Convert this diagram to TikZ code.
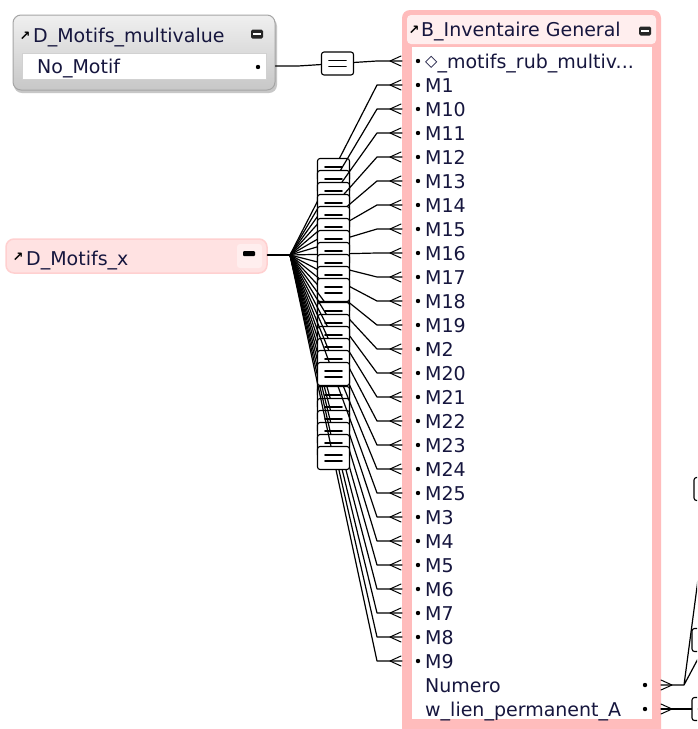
\documentclass[tikz,border=0pt]{standalone}
\usepackage{fontspec}
\setmainfont{DejaVu Sans}
\usetikzlibrary{calc}
\definecolor{inkblue}{RGB}{22,22,62}
\definecolor{tabpink}{RGB}{255,188,188}
\definecolor{headpink}{RGB}{255,238,238}
\definecolor{xpink}{RGB}{255,226,226}
\definecolor{xedge}{RGB}{255,208,208}
\definecolor{greyedge}{RGB}{165,165,165}
\tikzset{
  fieldtxt/.style={anchor=base west, inner sep=0pt, text=inkblue, font=\fontsize{19}{19}\selectfont},
  icontxt/.style={inner sep=0pt, font=\fontsize{13}{13}\selectfont\bfseries},
  link/.style={line width=1.2pt},
  relbox/.style={draw, fill=white, rounded corners=2.5pt, line width=1.1pt,
    minimum width=32pt, minimum height=23pt, inner sep=0pt,
    path picture={\draw[line width=1.8pt, sharp corners]
      ([shift={(-8.5pt,3pt)}]path picture bounding box.center) -- ++(17pt,0pt)
      ([shift={(-8.5pt,-3pt)}]path picture bounding box.center) -- ++(17pt,0pt);}},
  crowfoot/.pic={\draw[line width=1pt] (0pt,0pt) -- (11pt,5pt) (0pt,0pt) -- (11pt,-5pt);},
  btn/.pic={\fill[black!85, rounded corners=1.5pt] (-6pt,-4.5pt) rectangle (6pt,4.5pt);
    \fill[white] (-4pt,-1pt) rectangle (4pt,1pt);}
}
\begin{document}
\begin{tikzpicture}[x=1pt,y=-1pt,line join=round,line cap=round]
\useasboundingbox (0,0) rectangle (697,729);
\clip (0,0) rectangle (697,729);
\fill[white] (0,0) rectangle (697,729);
\def\rowy{24}

% B_Inventaire General
\fill[tabpink, rounded corners=8pt] (402,10) rectangle (661,745);
\fill[headpink, rounded corners=4pt] (407,15) rectangle (656,44);
\fill[white] (412,47) rectangle (652,719);
\node[icontxt] (icInv) at (414,30) {↗};
\node[fieldtxt] (tInv) at (421,36) {B\_Inventaire General};
\pic at (645,31) {btn};
\fill (418,61) circle (2.2pt);
\node[fieldtxt] (fMotifs) at (425,68) {\raisebox{1.5pt}{\fontsize{16}{16}\selectfont ◇}\_motifs\_rub\_multiv...};
\coordinate (inMotifs) at (402,61);
\coordinate (knMotifs) at (377,61);
\foreach \m [count=\i] in {M1,M10,M11,M12,M13,M14,M15,M16,M17,M18,M19,M2,M20,M21,M22,M23,M24,M25,M3,M4,M5,M6,M7,M8,M9}
{
  \pgfmathsetmacro\yy{61+\rowy*\i}
  \fill (418,\yy) circle (2.2pt);
  \node[fieldtxt] (f\m) at (425,\yy+7) {\m};
  \coordinate (in\m) at (402,\yy);
  \coordinate (kn\m) at (377,\yy);
}
\node[fieldtxt] (fNumero) at (425,692) {Numero};
\node[fieldtxt] (fLien) at (425,716) {w\_lien\_permanent\_A};
\fill (645,685) circle (2.2pt);
\fill (645,709) circle (2.2pt);

% D_Motifs_multivalue
\fill[black!22, rounded corners=8pt] (14,18) rectangle (277,93);
\node[draw=greyedge, line width=1pt, top color=black!6, bottom color=black!22, rounded corners=8pt,
  minimum width=262pt, minimum height=75pt] (tabMulti) at (144,52.5) {};
\node[icontxt] (icMulti) at (25,36) {↗};
\node[fieldtxt] (tMulti) at (33,42) {D\_Motifs\_multivalue};
\pic at (257,34) {btn};
\fill[white, draw=black!18] (22,53) rectangle (266,79);
\node[fieldtxt] (fNo) at (37,73) {No\_Motif};
\fill (258,67) circle (2.2pt);
\coordinate (knNo) at (298,66);

% D_Motifs_x
\node[draw=xedge, line width=1.5pt, fill=xpink, rounded corners=8pt,
  minimum width=261pt, minimum height=34pt] (tabX) at (136.5,256) {};
\fill[headpink, rounded corners=3pt] (237,244) rectangle (262,268);
\fill[black, rounded corners=1pt] (243,251) rectangle (255,256);
\node[icontxt] (icX) at (18,257) {↗};
\node[fieldtxt] (tX) at (26,265) {D\_Motifs\_x};
\coordinate (fan) at (290,255);

% relations
\draw[link] (tabMulti.east |- knNo) -- (knNo) -- (knMotifs) -- (inMotifs);
\node[relbox] (rNo) at ($(knNo)!0.5!(knMotifs)$) {};
\pic at (390,61) {crowfoot};
\draw[line width=2.2pt] (tabX.east |- fan) -- (fan);
\foreach \n in {1,...,25}
{
  \draw[link] (fan) -- (knM\n) -- (inM\n);
  \node[relbox] (rM\n) at ($(fan)!0.5!(knM\n)$) {};
  \pic at ($(inM\n)+(-12,0)$) {crowfoot};
}

% links leaving on the right
\coordinate (knNum) at (684,685);
\coordinate (offA) at (710,489);
\coordinate (offB) at (708,640);
\coordinate (offC) at (708,709);
\draw[link] (661,685) -- (knNum) -- (offA) (knNum) -- (offB);
\draw[link] (661,709) -- (offC);
\node[relbox] (rOffA) at (offA) {};
\node[relbox] (rOffB) at (offB) {};
\node[relbox] (rOffC) at (offC) {};
\pic[xscale=-1] at (672,685) {crowfoot};
\pic[xscale=-1] at (672,709) {crowfoot};
\end{tikzpicture}
\end{document}
